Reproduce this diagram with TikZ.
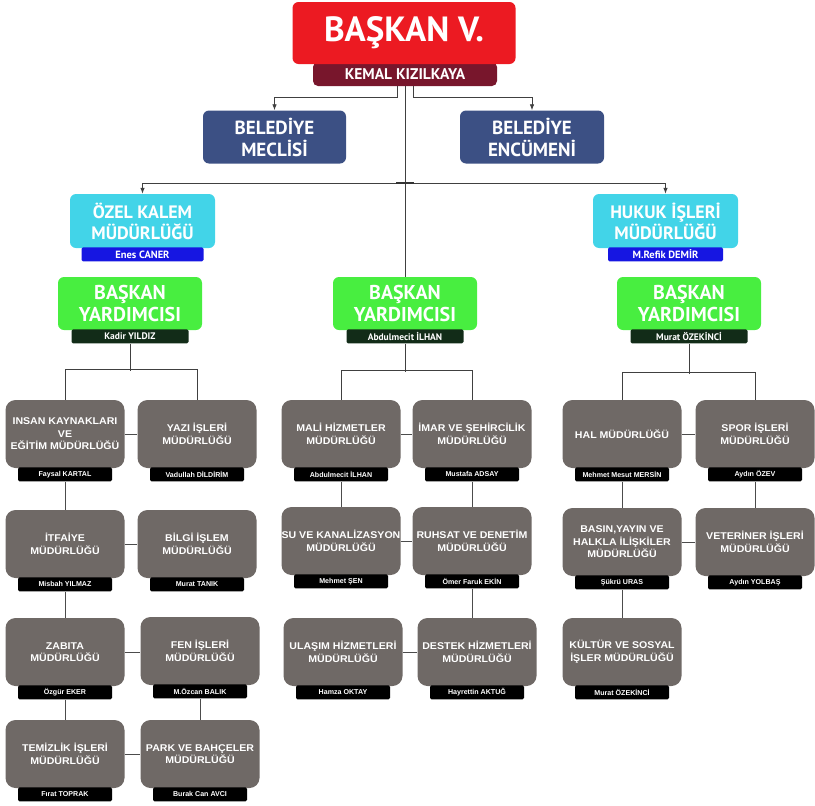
\documentclass[tikz,border=0pt]{standalone}
\usepackage{fontspec}
\setmainfont{Liberation Sans}
\newfontfamily\ustfont{PT Sans}
\newfontfamily\mudfont[FakeStretch=1.08]{Liberation Sans}
\usetikzlibrary{arrows.meta,positioning}

\definecolor{baskanred}{RGB}{236,26,34}
\definecolor{bordo}{RGB}{120,22,44}
\definecolor{meclisblue}{RGB}{60,80,132}
\definecolor{kalemcyan}{RGB}{66,212,232}
\definecolor{adblue}{RGB}{22,22,226}
\definecolor{yrdgreen}{RGB}{72,238,64}
\definecolor{adgreen}{RGB}{18,44,24}
\definecolor{mudgray}{RGB}{111,105,102}

\tikzset{
  ustkutu/.style={rounded corners=6pt, text=white, align=center, inner sep=0pt},
  mudkutu/.style={fill=mudgray, rounded corners=10pt, minimum width=119pt, minimum height=68pt,
    text=white, align=center, inner sep=0pt, font=\mudfont\bfseries\fontsize{9.8}{12.5}\selectfont},
  adbar/.style={fill=black, minimum width=94pt, minimum height=14pt, inner sep=0pt, anchor=north,
    rounded corners=1.5pt, text=white, font=\bfseries\fontsize{7.1}{8}\selectfont},
  hat/.style={draw=black!75, line width=0.8pt},
  okhat/.style={hat, -{Latex[length=6pt,width=4.5pt]}},
  grihat/.style={draw=black!70, line width=1pt}
}

\begin{document}
\begin{tikzpicture}[x=1pt,y=-1pt]
  \useasboundingbox (0,0) rectangle (815,806);

  % Baskan
  \node[fill=bordo, rounded corners=5pt, minimum width=184pt, minimum height=24pt, inner sep=0pt,
        text=white, font=\ustfont\bfseries\fontsize{15.5}{17}\selectfont] (kemal) at (405,74)
        {\raisebox{-1pt}{KEMAL KIZILKAYA}};
  \node[ustkutu, fill=baskanred, minimum width=223pt, minimum height=62pt,
        font=\ustfont\bfseries\fontsize{35}{38}\selectfont] (baskan) at (404,33) {BAŞKAN V.};

  % Meclis ve encumen
  \node[ustkutu, fill=meclisblue, minimum width=143pt, minimum height=53pt,
        font=\ustfont\bfseries\fontsize{19}{22}\selectfont] (meclis) at (274.5,137) {BELEDİYE\\MECLİSİ};
  \node[ustkutu, fill=meclisblue, minimum width=144pt, minimum height=53pt,
        font=\ustfont\bfseries\fontsize{19}{22}\selectfont] (encumen) at (532,137) {BELEDİYE\\ENCÜMENİ};

  % Ozel kalem ve hukuk
  \node[ustkutu, fill=kalemcyan, minimum width=145pt, minimum height=54pt,
        font=\ustfont\bfseries\fontsize{18}{21}\selectfont] (ozel) at (142.5,221) {ÖZEL KALEM\\MÜDÜRLÜĞÜ};
  \node[adbar, fill=adblue, minimum width=122pt, font=\ustfont\bfseries\fontsize{10.5}{11}\selectfont]
        (ozel-ad) at ([yshift=1pt]ozel.south) {Enes CANER};
  \node[ustkutu, fill=kalemcyan, minimum width=145pt, minimum height=54pt,
        font=\ustfont\bfseries\fontsize{18}{21}\selectfont] (hukuk) at (665.5,221) {HUKUK İŞLERİ\\MÜDÜRLÜĞÜ};
  \node[adbar, fill=adblue, minimum width=115pt, font=\ustfont\bfseries\fontsize{10.5}{11}\selectfont]
        (hukuk-ad) at ([yshift=1pt]hukuk.south) {M.Refik DEMİR};

  % Baskan yardimcilari
  \foreach \ad/\x/\kisi in {yrd1/130/{Kadir YILDIZ}, yrd2/405/{Abdulmecit İLHAN}, yrd3/689/{Murat ÖZEKİNCİ}}{
    \node[ustkutu, fill=yrdgreen, minimum width=144pt, minimum height=53pt,
          font=\ustfont\bfseries\fontsize{20}{22}\selectfont] (\ad) at (\x,303.5) {BAŞKAN\\YARDIMCISI};
    \node[adbar, fill=adgreen, minimum width=117pt, font=\ustfont\bfseries\fontsize{9.5}{10}\selectfont]
          (\ad-ad) at ([yshift=1pt]\ad.south) {\kisi};
  }

  % Mudurlukler
  \foreach \ad/\x/\y/\birim/\kisi in {
    insan/65/434/{INSAN KAYNAKLARI\\VE\\EĞİTİM MÜDÜRLÜĞÜ}/{Faysal KARTAL},
    yazi/197/434/{YAZI İŞLERİ\\MÜDÜRLÜĞÜ}/{Vadullah DİLDİRİM},
    itfaiye/65/544/{İTFAİYE\\MÜDÜRLÜĞÜ}/{Misbah YILMAZ},
    bilgi/197/544/{BİLGİ İŞLEM\\MÜDÜRLÜĞÜ}/{Murat TANIK},
    zabita/65/652/{ZABITA\\MÜDÜRLÜĞÜ}/{Özgür EKER},
    fen/200/651/{FEN İŞLERİ\\MÜDÜRLÜĞÜ}/{M.Özcan BALIK},
    temizlik/65/754/{TEMİZLİK İŞLERİ\\MÜDÜRLÜĞÜ}/{Fırat TOPRAK},
    park/200/754/{PARK VE BAHÇELER\\MÜDÜRLÜĞÜ}/{Burak Can AVCI},
    mali/341/434/{MALİ HİZMETLER\\MÜDÜRLÜĞÜ}/{Abdulmecit İLHAN},
    imar/472/434/{İMAR VE ŞEHİRCİLİK\\MÜDÜRLÜĞÜ}/{Mustafa ADSAY},
    su/341/541/{SU VE KANALİZASYON\\MÜDÜRLÜĞÜ}/{Mehmet ŞEN},
    ruhsat/472/541/{RUHSAT VE DENETİM\\MÜDÜRLÜĞÜ}/{Ömer Faruk EKİN},
    ulasim/343/652/{ULAŞIM HİZMETLERİ\\MÜDÜRLÜĞÜ}/{Hamza OKTAY},
    destek/477/652/{DESTEK HİZMETLERİ\\MÜDÜRLÜĞÜ}/{Hayrettin AKTUĞ},
    hal/622/434/{HAL MÜDÜRLÜĞÜ}/{Mehmet Mesut MERSİN},
    spor/755/434/{SPOR İŞLERİ\\MÜDÜRLÜĞÜ}/{Aydın ÖZEV},
    basin/622/542/{BASIN,YAYIN VE\\HALKLA İLİŞKİLER\\MÜDÜRLÜĞÜ}/{Şükrü URAS},
    veteriner/755/542/{VETERİNER İŞLERİ\\MÜDÜRLÜĞÜ}/{Aydın YOLBAŞ},
    kultur/622/652/{KÜLTÜR VE SOSYAL\\İŞLER MÜDÜRLÜĞÜ}/{Murat ÖZEKİNCİ}}{
    \node[mudkutu] (\ad) at (\x,\y) {\birim};
    \node[adbar] (\ad-ad) at ([yshift=1pt]\ad.south) {\kisi};
  }

  % Ust baglantilar
  \draw[hat] (kemal) -- (yrd2);
  \draw[okhat] ([xshift=-8pt]kemal.south) -- ++(0,11) -| (meclis.north);
  \draw[okhat] ([xshift=8pt]kemal.south) -- ++(0,11) -| (encumen.north);
  \coordinate (ayrim) at (yrd2.north |- 0,183);
  \draw[okhat] (ayrim) -| (ozel.north);
  \draw[okhat] (ayrim) -| (hukuk.north);
  \draw[line width=1.6pt, black!80] ([xshift=-9pt]ayrim) -- ([xshift=9pt]ayrim);

  % Yardimci baglantilari
  \draw[hat] (yrd1-ad.south) -- ++(0,27);
  \draw[hat] (insan.north) -- ++(0,-30) -| (yazi.north);
  \draw[hat] (yrd2-ad.south) -- ++(0,28);
  \draw[hat] (mali.north) -- ++(0,-29) -| (imar.north);
  \draw[hat] (yrd3-ad.south) -- ++(0,30);
  \draw[hat] (hal.north) -- ++(0,-27) -| (spor.north);

  % Mudurluk baglantilari
  \draw[grihat] (insan) -- (yazi);
  \draw[grihat] (itfaiye) -- (bilgi);
  \draw[grihat] (zabita.east) -- (zabita.east -| fen.west);
  \draw[grihat] (temizlik) -- (park);
  \draw[grihat] (insan-ad) -- (itfaiye);
  \draw[grihat] (itfaiye-ad) -- (zabita);
  \draw[grihat] (zabita-ad) -- (temizlik);
  \draw[grihat] (fen-ad) -- (park);
  \draw[grihat] (mali) -- (imar);
  \draw[grihat] (su) -- (ruhsat);
  \draw[grihat] (ulasim) -- (destek);
  \draw[grihat] (mali-ad) -- (su);
  \draw[grihat] (imar-ad) -- (ruhsat);
  \draw[grihat] (ruhsat-ad.south) -- (ruhsat-ad.south |- destek.north);
  \draw[grihat] (hal) -- (spor);
  \draw[grihat] (basin) -- (veteriner);
  \draw[grihat] (hal-ad) -- (basin);
  \draw[grihat] (spor-ad) -- (veteriner);
  \draw[grihat] (basin-ad) -- (kultur);
\end{tikzpicture}
\end{document}
